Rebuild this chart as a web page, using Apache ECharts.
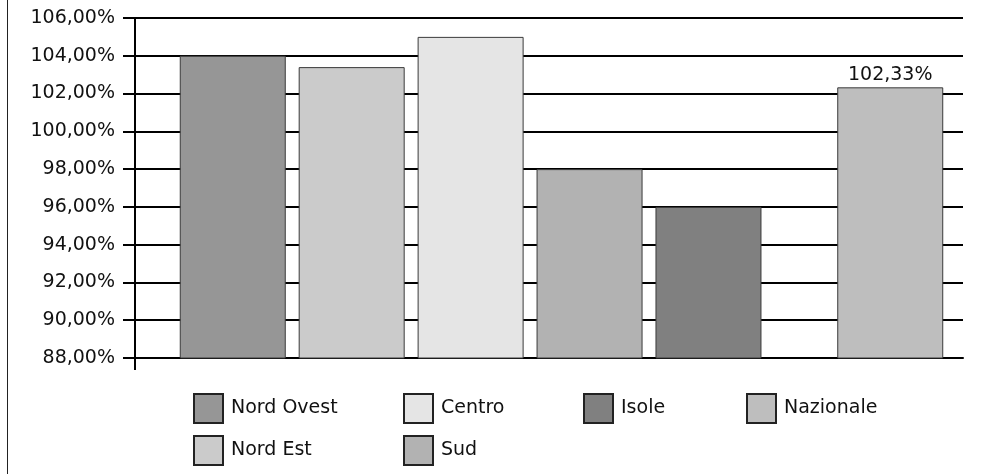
<!DOCTYPE html>
<html>
<head>
<meta charset="utf-8">
<script src="https://cdn.jsdelivr.net/npm/echarts@6/dist/echarts.min.js"></script>
<style>
  html, body { margin: 0; padding: 0; background: #fff; }
  #chart { width: 983px; height: 474px; }
</style>
</head>
<body>
<div id="chart"></div>
<script>
// Regional index values (percent)
const regions = ['Nord Ovest', 'Nord Est', 'Centro', 'Sud', 'Isole', 'Nazionale'];
const values = [104.0, 103.4, 105.0, 98.0, 96.0, 102.33];
const colors = ['#969696', '#cbcbcb', '#e5e5e5', '#b2b2b2', '#808080', '#bebebe'];
const labelledRegion = 'Nazionale';

// Value axis range
const yMin = 88;
const yMax = 106;
const yStep = 2;

// Legend columns
const legendColumns = [['Nord Ovest', 'Nord Est'], ['Centro', 'Sud'], ['Isole'], ['Nazionale']];

// Layout
const FONT = 'DejaVu Sans';
const gridLeft = 135, gridRight = 20, gridTop = 18, gridBottom = 116;
const barsLeft = 160;
const legendLeft = [193, 403, 583, 746];
const legendTop = 393;

const pct = v => v.toFixed(2).replace('.', ',') + '%';

const chart = echarts.init(document.getElementById('chart'), null, { renderer: 'canvas' });

const series = [];
regions.forEach((name, i) => {
  if (name === 'Nazionale') {
    // empty slot separating the national bar from the regional group
    series.push({
      type: 'bar', name: '_sep', xAxisIndex: 1, yAxisIndex: 1,
      barWidth: 56, barGap: '12.2%', data: [null], silent: true
    });
  }
  series.push({
    type: 'bar',
    name: name,
    xAxisIndex: 1,
    yAxisIndex: 1,
    barWidth: 106,
    barGap: '12.2%',
    data: [values[i]],
    itemStyle: { color: colors[i], borderColor: '#3a3a3a', borderWidth: 1 },
    label: {
      show: name === labelledRegion,
      position: 'top',
      distance: 3,
      fontFamily: FONT,
      fontSize: 19,
      color: '#111',
      formatter: p => pct(p.value)
    }
  });
});

const option = {
  animation: false,
  backgroundColor: '#fff',
  grid: [
    { left: gridLeft, right: gridRight, top: gridTop, bottom: gridBottom },
    { left: barsLeft, right: gridRight, top: gridTop, bottom: gridBottom }
  ],
  xAxis: [
    {
      gridIndex: 0, type: 'category', data: [''],
      axisLine: { show: true, lineStyle: { color: '#000', width: 2 } },
      axisTick: { show: false },
      axisLabel: { show: false }
    },
    { gridIndex: 1, type: 'category', data: [''], show: false }
  ],
  yAxis: [
    {
      gridIndex: 0, type: 'value', min: yMin, max: yMax, interval: yStep,
      axisLine: { show: true, lineStyle: { color: '#000', width: 2 } },
      axisTick: { show: true, length: 12, lineStyle: { color: '#000', width: 2 } },
      axisLabel: {
        margin: 20, fontFamily: FONT, fontSize: 19, color: '#111',
        formatter: v => pct(v)
      },
      splitLine: { show: true, lineStyle: { color: '#000', width: 2 } }
    },
    { gridIndex: 1, type: 'value', min: yMin, max: yMax, interval: yStep, show: false }
  ],
  legend: legendColumns.map((names, k) => ({
    data: names,
    orient: 'vertical',
    left: legendLeft[k],
    top: legendTop,
    padding: 0,
    itemGap: 11,
    itemWidth: 29,
    itemHeight: 29,
    icon: 'rect',
    selectedMode: false,
    itemStyle: { borderColor: '#222', borderWidth: 2 },
    textStyle: { fontFamily: FONT, fontSize: 19, color: '#111', padding: [0, 0, 0, 3] }
  })),
  series: series
};

chart.setOption(option);

// value axis line continues a little below the base line; frame line on the left
const yBase = chart.convertToPixel({ yAxisIndex: 0 }, yMin);
chart.setOption({
  graphic: [
    {
      type: 'line', silent: true,
      shape: { x1: gridLeft, y1: yBase, x2: gridLeft, y2: yBase + 12 },
      style: { stroke: '#000', lineWidth: 2 }
    },
    {
      type: 'line', silent: true,
      shape: { x1: 7.5, y1: 0, x2: 7.5, y2: 474 },
      style: { stroke: '#222', lineWidth: 1 }
    }
  ]
});
</script>
</body>
</html>
